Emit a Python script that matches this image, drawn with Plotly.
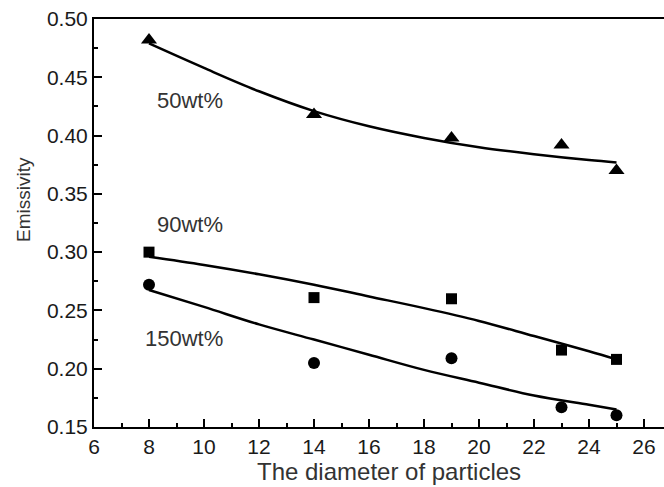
import plotly.graph_objects as go

# measured points
diam = [8, 14, 19, 23, 25]
emis_50 = [0.482, 0.418, 0.398, 0.392, 0.370]
emis_90 = [0.300, 0.261, 0.260, 0.216, 0.208]
emis_150 = [0.272, 0.205, 0.209, 0.167, 0.160]

# fitted curves
fit_x = [8, 10, 12, 14, 16, 18, 20, 22, 24, 25]
fit_50 = [0.479, 0.458, 0.438, 0.421, 0.408, 0.398, 0.390, 0.384, 0.379, 0.377]
fit_90 = [0.296, 0.289, 0.281, 0.272, 0.262, 0.252, 0.241, 0.228, 0.215, 0.208]
fit_150 = [0.2675, 0.253, 0.238, 0.225, 0.212, 0.199, 0.188, 0.177, 0.169, 0.165]

labels = ["50wt%", "90wt%", "150wt%"]

FONT = "Arial, Liberation Sans, Helvetica, sans-serif"
INK = "#1a1a1a"

fig = go.Figure()
for fy in (fit_50, fit_90, fit_150):
    fig.add_trace(go.Scatter(x=fit_x, y=fy, mode="lines",
                             line=dict(color="black", width=2.5, shape="spline"),
                             showlegend=False, hoverinfo="skip"))

fig.add_trace(go.Scatter(x=diam, y=emis_50, mode="markers",
                         marker=dict(symbol="triangle-up", size=14, color="black"),
                         showlegend=False))
fig.add_trace(go.Scatter(x=diam, y=emis_90, mode="markers",
                         marker=dict(symbol="square", size=11, color="black"),
                         showlegend=False))
fig.add_trace(go.Scatter(x=diam, y=emis_150, mode="markers",
                         marker=dict(symbol="circle", size=12, color="black"),
                         showlegend=False))

ann_pos = [(8.22, 0.4305), (8.22, 0.3233), (7.78, 0.2263)]
for (ax, ay), t in zip(ann_pos, labels):
    fig.add_annotation(x=ax, y=ay, text=t, showarrow=False, xanchor="left",
                       yanchor="middle", font=dict(family=FONT, size=22, color="#333"))

fig.add_annotation(xref="paper", yref="paper", x=-0.1246, y=0.5588,
                   text="Emissivity", textangle=-90, showarrow=False,
                   xanchor="center", yanchor="middle",
                   font=dict(family=FONT, size=19, color="#333"))
fig.add_annotation(xref="paper", yref="paper", x=0.5167, y=-0.110,
                   text="The diameter of particles", showarrow=False,
                   xanchor="center", yanchor="middle",
                   font=dict(family=FONT, size=24, color="#333"))

fig.update_xaxes(range=[6, 6 + 570 / 27.5], dtick=2, tick0=6,
                 showline=True, linecolor="black", linewidth=2, mirror=True,
                 ticks="inside", ticklen=8, tickwidth=2, tickcolor="black",
                 minor=dict(dtick=1, ticks="inside", ticklen=4, tickwidth=2, tickcolor="black"),
                 showgrid=False, zeroline=False,
                 tickfont=dict(family=FONT, size=21, color=INK))
fig.update_yaxes(range=[0.15, 0.50], dtick=0.05, tick0=0.15, tickformat=".2f",
                 showline=True, linecolor="black", linewidth=2, mirror=False,
                 ticks="inside", ticklen=8, tickwidth=2, tickcolor="black",
                 minor=dict(dtick=0.025, ticks="inside", ticklen=4, tickwidth=2, tickcolor="black"),
                 showgrid=False, zeroline=False,
                 tickfont=dict(family=FONT, size=21, color=INK))

fig.update_layout(width=664, height=487,
                  margin=dict(l=94, r=0, t=19, b=60),
                  plot_bgcolor="white", paper_bgcolor="white",
                  showlegend=False, hovermode=False)

# remove the default 8px page margin so the figure fills the window exactly
fig.write_html("out.html", config={"displayModeBar": False},
               post_script="document.body.style.margin='0';document.body.style.overflow='hidden';")
